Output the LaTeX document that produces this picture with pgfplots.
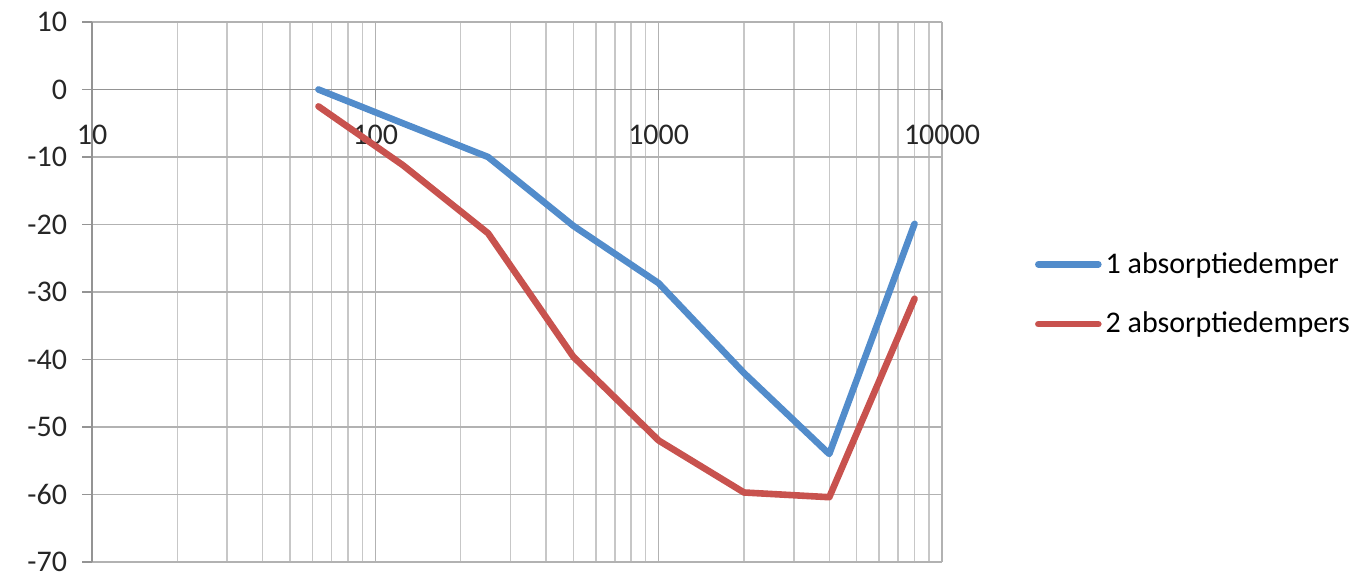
\documentclass[border=0pt]{standalone}
\usepackage{pgfplots}
\pgfplotsset{compat=1.18}
\usepackage{fontspec}
\setmainfont{Carlito}

\definecolor{serBlue}{RGB}{82,140,203}
\definecolor{serRed}{RGB}{200,82,78}

\begin{document}
\begin{tikzpicture}
\begin{axis}[
    name=ax,
    scale only axis,
    width=425pt, height=270pt,
    xmode=log,
    xmin=10, xmax=10000,
    ymin=-70, ymax=10,
    ytick={-70,-60,...,10},
    xtick={10,100,1000,10000},
    xticklabels={10,100,1000,10000},
    axis x line=middle,
    axis y line=left,
    hide obscured x ticks=false,
    hide obscured y ticks=false,
    axis line style={-, draw=black!42, line width=0.8pt},
    tick align=outside,
    major tick length=5pt,
    minor tick length=0pt,
    tick style={draw=black!42, line width=0.8pt},
    grid=both,
    major grid style={draw=black!30, line width=0.75pt},
    minor grid style={draw=black!22, line width=0.75pt},
    /pgf/number format/assume math mode=true,
    tick label style={font=\fontsize{15}{17}\selectfont, text=black!85},
    xticklabel style={yshift=-9pt},
    yticklabel style={xshift=-4pt},
    legend style={at={(rel axis cs:1.109,0.496)}, anchor=west,
        draw=none, fill=none, font=\fontsize{15}{17}\selectfont,
        row sep=14pt, inner sep=0pt},
    legend cell align=left,
    legend image code/.code={\draw[#1] (0pt,0pt) -- (30pt,0pt);},
    every axis plot/.append style={line width=3.3pt, line cap=round, line join=round},
]
\addplot[serBlue] coordinates {
    (63, 0) (125, -5) (250, -10) (500, -20.2)
    (1000, -28.7) (2000, -42) (4000, -54) (8000, -19.9)
};
\addlegendentry{1 absorptiedemper}
\addplot[serRed] coordinates {
    (63, -2.5) (125, -11.2) (250, -21.3) (500, -39.6)
    (1000, -52) (2000, -59.7) (4000, -60.4) (8000, -31)
};
\addlegendentry{2 absorptiedempers}
\end{axis}
\pgfresetboundingbox
\path[use as bounding box] (ax.south west) ++(-46pt,-5.5pt) rectangle ++(677pt,286.5pt);
\end{tikzpicture}
\end{document}
